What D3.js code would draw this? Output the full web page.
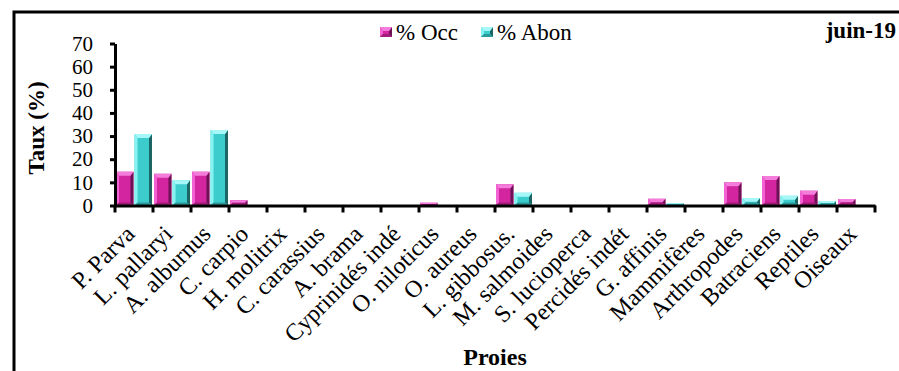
<!DOCTYPE html>
<html><head><meta charset="utf-8">
<script src="https://cdn.jsdelivr.net/npm/d3@7"></script>
<style>
body{margin:0;background:#fff;}
svg{display:block;}
svg text{font-family:"Liberation Serif","Times New Roman",serif;}
</style></head>
<body><svg id="c" width="899" height="371"></svg>
<script>
const categories = ["P. Parva","L. pallaryi","A. alburnus","C. carpio","H. molitrix","C. carassius","A. brama","Cyprinidés indé","O. niloticus","O. aureus","L. gibbosus.","M. salmoides","S. lucioperca","Percidés indét","G. affinis","Mammifères","Arthropodes","Batraciens","Reptiles","Oiseaux"];
const occValues  = [14.6, 13.7, 14.6, 2.3, 0, 0, 0, 0, 1.2, 0, 9.2, 0, 0, 0, 2.9, 0, 10.0, 12.7, 6.4, 2.8];
const abonValues = [30.9, 10.9, 32.6, 0, 0, 0, 0, 0, 0, 0, 5.5, 0, 0, 0, 1.0, 0, 3.2, 4.2, 1.9, 0];
const seriesNames = ["% Occ", "% Abon"];
const yTicks = [0, 10, 20, 30, 40, 50, 60, 70];
const subtitle = "juin-19";
const yTitle = "Taux (%)";
const xTitle = "Proies";

const palette = {
  "% Occ":  {face:"#d3259f", light:"#f262d2", top:"#f47ddc", dark:"#6e1256", bottom:"#a11c7b"},
  "% Abon": {face:"#3ccccc", light:"#86f2f2", top:"#a6f8f8", dark:"#1d6565", bottom:"#2a9a9a"}
};

const svg = d3.select("#c");
// frame
svg.append("rect").attr("x",14).attr("y",12).attr("width",1000).attr("height",1000)
  .attr("fill","none").attr("stroke","#000").attr("stroke-width",3);

const x = d3.scaleBand().domain(categories).range([115, 875]).padding(0);
const sub = d3.scaleBand().domain(seriesNames).range([1, x.bandwidth()-1]).paddingInner(0.06);
const y = d3.scaleLinear().domain([0, 70]).range([205.5, 43.5]);

function bevelBar(g, x0, w, y0, y1, col){
  const h = y1 - y0;
  if (h <= 0.05) return;
  const b = Math.min(3, h/2, w/2);
  const bt = Math.min(4, h/2);
  g.append("rect").attr("x",x0).attr("y",y0).attr("width",w).attr("height",h).attr("fill",col.face);
  g.append("polygon").attr("points",[[x0,y0],[x0+b,y0+bt],[x0+b,y1-b],[x0,y1]].join(" ")).attr("fill",col.light);
  g.append("polygon").attr("points",[[x0+w,y0],[x0+w-b,y0+bt],[x0+w-b,y1-b],[x0+w,y1]].join(" ")).attr("fill",col.dark);
  g.append("polygon").attr("points",[[x0,y0],[x0+w,y0],[x0+w-b,y0+bt],[x0+b,y0+bt]].join(" ")).attr("fill",col.top);
  g.append("polygon").attr("points",[[x0,y1],[x0+w,y1],[x0+w-b,y1-b],[x0+b,y1-b]].join(" ")).attr("fill",col.bottom);
}

const bars = svg.append("g");
categories.forEach((c,i)=>{
  [[seriesNames[0], occValues[i]],[seriesNames[1], abonValues[i]]].forEach(([s,v])=>{
    bevelBar(bars, x(c)+sub(s), sub.bandwidth(), y(v), y(0), palette[s]);
  });
});

// Y axis
const ya = svg.append("g").attr("transform","translate(115,0)")
  .call(d3.axisLeft(y).tickValues(yTicks).tickSize(5).tickSizeOuter(0).tickPadding(17));
ya.attr("font-family",null);
ya.select(".domain").attr("stroke","#000").attr("stroke-width",3);
ya.selectAll(".tick line").attr("stroke","#000").attr("stroke-width",3);
ya.selectAll(".tick text").attr("font-size",21).attr("fill","#000");

// X axis
const xa = svg.append("g").attr("transform",`translate(0,${y(0)})`)
  .call(d3.axisBottom(x).tickSize(0).tickSizeOuter(0).tickFormat(""));
xa.select(".domain").attr("stroke","#000").attr("stroke-width",3);
xa.selectAll(".tick").remove();
const bounds = categories.map(c=>x(c)).concat([x.range()[1]]);
xa.selectAll("line.tk").data(bounds).enter().append("line").attr("class","tk")
  .attr("x1",d=>d).attr("x2",d=>d).attr("y1",0).attr("y2",7)
  .attr("stroke","#000").attr("stroke-width",3);

svg.append("g").selectAll("text").data(categories).enter().append("text")
  .attr("transform",c=>`translate(${x(c)+x.bandwidth()/2+2},${y(0)+30}) rotate(-45)`)
  .attr("text-anchor","end").attr("font-size",24).attr("fill","#000").text(c=>c);

// titles
svg.append("text").attr("transform","translate(44,128) rotate(-90)").attr("text-anchor","middle")
  .attr("font-size",23).attr("font-weight","bold").text(yTitle);
svg.append("text").attr("x",(x.range()[0]+x.range()[1])/2).attr("y",365).attr("text-anchor","middle")
  .attr("font-size",24).attr("font-weight","bold").text(xTitle);
svg.append("text").attr("x",896).attr("y",38).attr("text-anchor","end")
  .attr("font-size",23).attr("font-weight","bold").text(subtitle);

// legend
const legX = [380, 481];
const lg = svg.append("g");
seriesNames.forEach((s,i)=>{
  bevelBar(lg, legX[i], 12, 27, 37, palette[s]);
  lg.append("text").attr("x",legX[i]+16).attr("y",40).attr("font-size",23).text(s);
});
</script></body></html>
